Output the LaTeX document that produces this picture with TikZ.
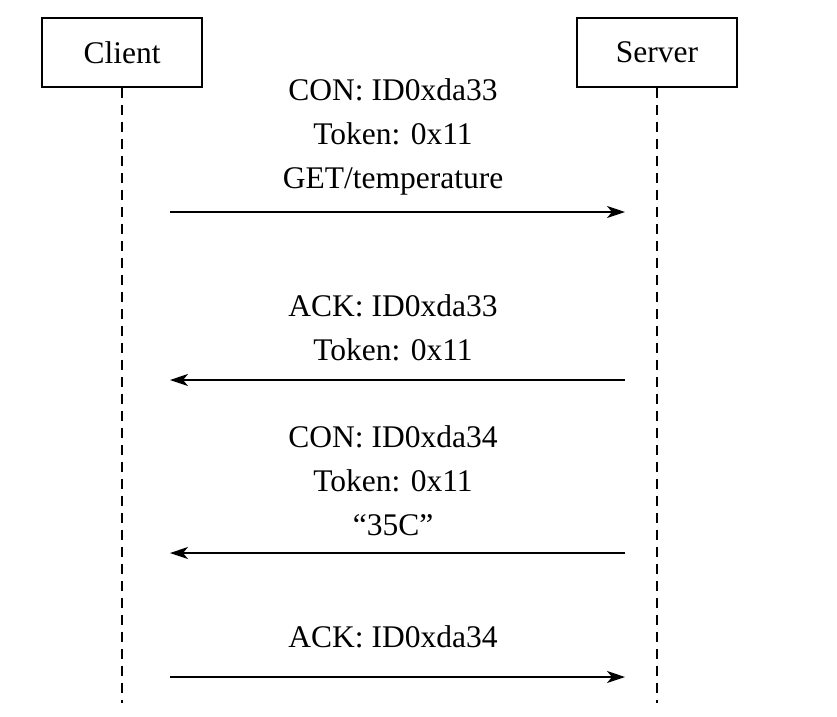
\documentclass[tikz,border=0pt]{standalone}
\usepackage{fontspec}
\setmainfont{Liberation Serif}
\usetikzlibrary{arrows.meta}
\begin{document}
\begin{tikzpicture}[x=1pt,y=-1pt,
  actor/.style={draw,line width=1.5pt,minimum width=160pt,minimum height=69pt,inner sep=0pt,font=\fontsize{31.5}{37}\selectfont},
  life/.style={line width=1.3pt,dash pattern=on 10pt off 7pt},
  msg/.style={line width=1.6pt,-{Stealth[length=18pt,width=12pt,inset=5pt]}},
  lbl/.style={inner sep=0pt,anchor=base,font=\fontsize{31.5}{37}\selectfont}]
\useasboundingbox (0,0) rectangle (837,716);
\node[actor] (client) at (122,52.5) {Client};
\node[actor] (server) at (657,52.5) {Server};
\coordinate (cend) at (122,703);
\coordinate (send) at (657,703);
\draw[life] (client.south) -- (cend);
\draw[life] (server.south) -- (send);
% message endpoints
\coordinate (a1) at (170,212); \coordinate (b1) at (625,212);
\coordinate (a2) at (170,380); \coordinate (b2) at (625,380);
\coordinate (a3) at (170,553); \coordinate (b3) at (625,553);
\coordinate (a4) at (170,677); \coordinate (b4) at (625,677);
\draw[msg] (a1) -- (b1);
\draw[msg] (b2) -- (a2);
\draw[msg] (b3) -- (a3);
\draw[msg] (a4) -- (b4);
\node[lbl] (t1) at (393,100.5) {CON: ID0xda33};
\node[lbl] (t2) at (393,144.5) {Token: 0x11};
\node[lbl] (t3) at (393,188.5) {GET/temperature};
\node[lbl] (t4) at (393,316.5) {ACK: ID0xda33};
\node[lbl] (t5) at (393,360.5) {Token: 0x11};
\node[lbl] (t6) at (393,447.5) {CON: ID0xda34};
\node[lbl] (t7) at (393,491.5) {Token: 0x11};
\node[lbl] (t8) at (393,535.5) {“35C”};
\node[lbl] (t9) at (393,647.5) {ACK: ID0xda34};
\end{tikzpicture}
\end{document}
